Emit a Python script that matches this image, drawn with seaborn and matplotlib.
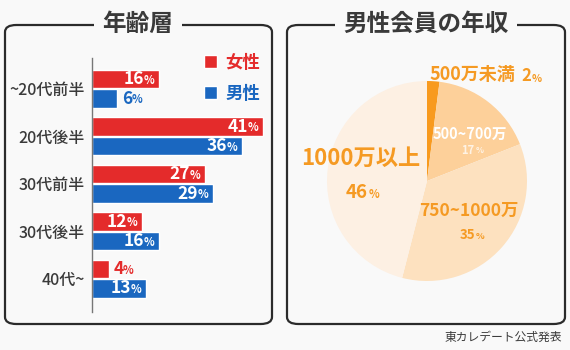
import pandas as pd
import seaborn as sns
import matplotlib.pyplot as plt
from matplotlib.patches import FancyBboxPatch, Patch

# データ
ages = ['~20代前半', '20代後半', '30代前半', '30代後半', '40代~']
female = [16, 41, 27, 12, 4]
male = [6, 36, 29, 16, 13]
income_labels = ['500万未満', '500~700万', '750~1000万', '1000万以上']
income_values = [2, 17, 35, 46]

RED = '#e42b2b'
BLUE = '#1a67c0'
ORANGE = '#f59a23'
pie_colors = ['#f89a1e', '#fdd09a', '#fde1bf', '#fdf0e3']
BG = '#f9f9f9'
DARK = '#3a3a3a'

sns.set_theme(style='white')
plt.rcParams['font.family'] = ['Noto Sans CJK JP', 'DejaVu Sans']

W, H = 570, 350
fig = plt.figure(figsize=(W / 100, H / 100), dpi=100, facecolor=BG)


def fx(px):
    return px / W


def fy(py):
    return 1 - py / H


# 枠とタイトル
for x0, x1, title, tx in [(5, 272, '年齢層', 138), (287, 565, '男性会員の年収', 426)]:
    box = FancyBboxPatch((fx(x0), fy(324)), fx(x1) - fx(x0), fy(25) - fy(324),
                         boxstyle='round,pad=0,rounding_size=0.02', transform=fig.transFigure,
                         facecolor='none', edgecolor='#2b2b2b', linewidth=1.6)
    fig.patches.append(box)
    fig.text(fx(tx), fy(24), title, ha='center', va='center', fontsize=17, fontweight='bold',
             color=DARK, bbox=dict(facecolor=BG, edgecolor='none', pad=6))

# 棒グラフ
ax = fig.add_axes([fx(92), fy(312), fx(267) - fx(92), fy(58) - fy(312)])
df = pd.DataFrame({'age': ages * 2, 'pct': female + male,
                   'sex': ['女性'] * len(ages) + ['男性'] * len(ages)})
sns.barplot(data=df, y='age', x='pct', hue='sex', palette=[RED, BLUE], orient='h',
            width=0.82, gap=0.06, saturation=1, ax=ax, legend=False)
ax.set_xlim(0, 42)
ax.set_ylim(4.7, -0.65)
ax.set_facecolor('none')
ax.set_xlabel('')
ax.set_ylabel('')
ax.set_xticks([])
for s in ['top', 'right', 'bottom']:
    ax.spines[s].set_visible(False)
ax.spines['left'].set_color('#777777')
ax.spines['left'].set_linewidth(1)
ax.tick_params(axis='y', length=0, pad=5, labelsize=11.5, labelcolor=DARK)
for lab in ax.get_yticklabels():
    lab.set_fontweight('medium')


def pct_label(ax, x, y, num, color, inside):
    # 数字の右に小さい % を付ける
    if inside:
        t = ax.annotate(str(num), (x, y), xytext=(-10.5, 0), textcoords='offset points',
                        ha='right', va='center', fontsize=12.5, fontweight='bold', color='white')
        c = 'white'
    else:
        t = ax.annotate(str(num), (x, y), xytext=(3.5, 0), textcoords='offset points',
                        ha='left', va='center', fontsize=12.5, fontweight='bold', color=color)
        c = color
    ax.annotate('%', (1, 0.08), xycoords=t, xytext=(-0.5, 0), textcoords='offset points',
                ha='left', va='bottom', fontsize=8, fontweight='bold', color=c)


for bars, vals, color in zip(ax.containers, [female, male], [RED, BLUE]):
    for bar, v in zip(bars, vals):
        yc = bar.get_y() + bar.get_height() / 2
        pct_label(ax, bar.get_width(), yc, v, color, v >= 10)

handles = [Patch(facecolor=RED), Patch(facecolor=BLUE)]
leg = fig.legend(handles, ['女性', '男性'], loc='upper left', bbox_to_anchor=(fx(188), fy(38)),
                 frameon=False, handlelength=0.75, handleheight=0.75, handletextpad=0.5,
                 labelspacing=0.75, prop={'size': 12.5, 'weight': 'bold'})
for txt, c in zip(leg.get_texts(), [RED, BLUE]):
    txt.set_color(c)

# 円グラフ
ax2 = fig.add_axes([fx(327), fy(281), fx(527) - fx(327), fy(81) - fy(281)])
ax2.pie(income_values, colors=pie_colors, startangle=90, counterclock=False,
        wedgeprops=dict(linewidth=0))
ax2.set_xlim(-1, 1)
ax2.set_ylim(-1, 1)
ax2.set_aspect('equal')


def pie_text(px, py, s, size, color, ha='center', alpha=1):
    return ax2.annotate(s, (fx(px), fy(py)), xycoords='figure fraction', ha=ha, va='center',
                        fontsize=size, fontweight='bold', color=color, alpha=alpha,
                        annotation_clip=False)


def pie_pct(t, size, color, alpha=1):
    ax2.annotate('%', (1, 0.08), xycoords=t, xytext=(0.5, 0), textcoords='offset points',
                 ha='left', va='bottom', fontsize=size, fontweight='bold', color=color,
                 alpha=alpha, annotation_clip=False)


pie_text(430, 75, income_labels[0], 13, ORANGE, ha='left')
t = pie_text(521, 76, f'{income_values[0]}', 12, ORANGE, ha='left')
pie_pct(t, 7.5, ORANGE)

pie_text(470, 134, income_labels[1], 10.5, 'white')
t = pie_text(468, 150, f'{income_values[1]}', 8, 'white', alpha=0.75)
pie_pct(t, 6, 'white', alpha=0.75)

pie_text(361, 158, income_labels[3], 16, ORANGE)
t = pie_text(357, 193, f'{income_values[3]}', 13.5, ORANGE)
pie_pct(t, 8, ORANGE)

pie_text(469, 211, income_labels[2], 12.5, ORANGE)
t = pie_text(467, 235, f'{income_values[2]}', 9.5, ORANGE)
pie_pct(t, 6.5, ORANGE)

fig.text(fx(562), fy(337), '東カレデート公式発表', ha='right', va='center', fontsize=8.5, color=DARK)

fig.savefig('out.png', dpi=100, facecolor=BG)
